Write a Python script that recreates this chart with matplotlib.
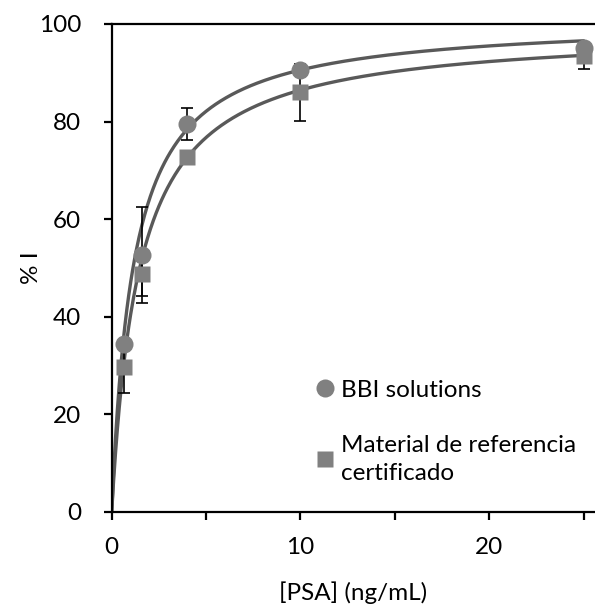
import numpy as np
import matplotlib
matplotlib.use("Agg")
import matplotlib.pyplot as plt

# PSA concentration (ng/mL) and inhibition (%)
conc = [0.64, 1.6, 4, 10, 25]
bbi = [34.5, 52.7, 79.5, 90.5, 95.1]
bbi_err = [0.6, 9.9, 3.2, 0.6, 0.6]
crm = [29.7, 48.7, 72.7, 86.0, 93.4]
crm_err = [5.3, 4.4, 0.6, 5.9, 2.7]

# hyperbolic fit parameters: %I = Imax * x / (K + x)
bbi_fit = (101.0, 1.15)
crm_fit = (99.0, 1.45)

labels = ["BBI solutions", "Material de referencia\ncertificado"]

plt.rcParams['font.family'] = ['Lato', 'DejaVu Sans']

fig = plt.figure(figsize=(5.95, 6.06), dpi=100)
ax = fig.add_axes([111.7 / 595, 94 / 606, 1 - 111.7 / 595, 488 / 606])

marker_col = "#808080"
line_col = "#595959"
fs = 17.5

xs = np.linspace(0, 25, 500)
for (imax, k) in (bbi_fit, crm_fit):
    ax.plot(xs, imax * xs / (k + xs), color=line_col, lw=2.4, zorder=2,
            solid_capstyle="round")

ax.errorbar(conc, bbi, yerr=bbi_err, fmt="none", ecolor="black",
            elinewidth=1.2, capsize=4.5, capthick=1.2, zorder=3)
ax.errorbar(conc, crm, yerr=crm_err, fmt="none", ecolor="black",
            elinewidth=1.2, capsize=4.5, capthick=1.2, zorder=3)

h1, = ax.plot(conc, bbi, "o", color=marker_col, ms=13, mec="none",
              zorder=4, label=labels[0])
h2, = ax.plot(conc, crm, "s", color=marker_col, ms=12, mec="none",
              zorder=5, label=labels[1])

ax.set_xlim(0, 25.6)
ax.set_ylim(0, 100)
ax.set_xticks([0, 10, 20])
ax.set_xticks([5, 15, 25], minor=True)
ax.set_yticks([0, 20, 40, 60, 80, 100])

for side in ("left", "bottom", "top"):
    ax.spines[side].set_linewidth(1.6)
ax.spines["right"].set_visible(False)

ax.tick_params(axis="both", which="both", direction="out", width=1.6,
               length=6, labelsize=fs, colors="black")
ax.tick_params(axis="x", which="both", pad=12)
ax.tick_params(axis="y", which="both", pad=16)

ax.set_xlabel("[PSA] (ng/mL)", fontsize=fs)
ax.set_ylabel("% I", fontsize=fs)
ax.xaxis.set_label_coords(0.5, -0.142)
ax.yaxis.set_label_coords(-0.145, 0.5)

leg = ax.legend(handles=[h1, h2], loc="upper left",
                bbox_to_anchor=(0.402, 0.296), frameon=False, fontsize=fs,
                handlelength=0.6, handletextpad=0.35, labelspacing=1.4,
                borderpad=0)
for t in leg.get_texts():
    t.set_linespacing(1.4)

fig.savefig("out.png", dpi=100)
